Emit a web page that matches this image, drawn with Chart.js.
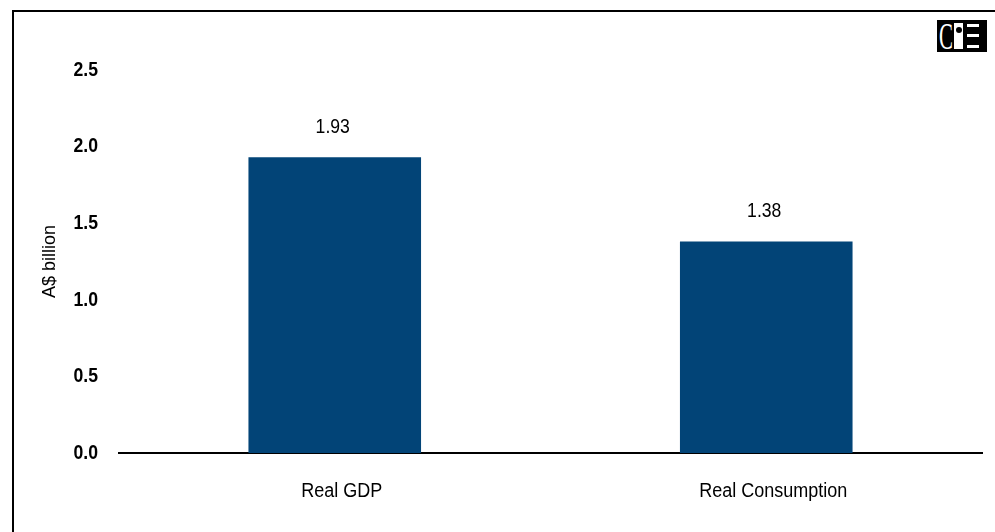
<!DOCTYPE html>
<html>
<head>
<meta charset="utf-8">
<script src="https://cdn.jsdelivr.net/npm/chart.js@4"></script>
<style>
  html, body { margin: 0; padding: 0; background: #fff; overflow: hidden; }
  #wrap { position: relative; width: 995px; height: 532px; }
  #frame {
    position: absolute; left: 12px; top: 10px; width: 1000px; height: 600px;
    border-left: 2px solid #000; border-top: 2px solid #000;
  }
  #logo {
    position: absolute; left: 937px; top: 20px; width: 50px; height: 32px;
    background: #000; color: #fff; font-family: "Liberation Serif", serif;
    box-sizing: border-box; overflow: hidden;
  }
  #logo .c {
    position: absolute; left: 2px; top: -2px; font-size: 38px; line-height: 36px;
    transform: scaleX(0.55); transform-origin: left center;
  }
  #logo .bar { position: absolute; left: 17px; top: 3px; width: 9px; height: 26px; background: #fff; }
  #logo .dot { position: absolute; left: 19px; top: 7px; width: 6px; height: 6px; border-radius: 3px; background: #000; }
  #logo .ln { position: absolute; left: 30px; width: 12px; height: 3px; background: #fff; }
  canvas { position: absolute; left: 0; top: 0; }
</style>
</head>
<body>
<div id="wrap">
  <div id="frame"></div>
  <div id="logo"><span class="c">C</span><span class="bar"></span><span class="dot"></span>
    <span class="ln" style="top:4px"></span><span class="ln" style="top:14px"></span><span class="ln" style="top:25px"></span>
  </div>
  <canvas id="barChart" width="995" height="532"></canvas>
</div>
<script>
const categories = ["Real GDP", "Real Consumption"];
const impactValues = [1.93, 1.38];
const yTicks = [0.0, 0.5, 1.0, 1.5, 2.0, 2.5];
const yTitle = "A$ billion";

const baseFont = "'Liberation Sans', Arial, sans-serif";

// narrow (condensed) text, like Arial Narrow in the original
function narrowText(ctx, text, x, y, size, weight, squeeze, align) {
  ctx.save();
  ctx.font = weight + " " + size + "px " + baseFont;
  ctx.fillStyle = "#000";
  ctx.textBaseline = "middle";
  ctx.textAlign = align;
  ctx.translate(x, y);
  ctx.scale(squeeze, 1);
  ctx.fillText(text, 0, 0);
  ctx.restore();
}

const textLayer = {
  id: "textLayer",
  afterDraw(chart) {
    const ctx = chart.ctx;
    const yScale = chart.scales.y;
    const xScale = chart.scales.x;
    const area = chart.chartArea;

    yTicks.forEach(v => {
      narrowText(ctx, v.toFixed(1), 98, yScale.getPixelForValue(v), 21, "bold", 0.84, "right");
    });

    categories.forEach((c, i) => {
      narrowText(ctx, c, xScale.getPixelForValue(i) + 7, 491, 20, "normal", 0.9, "center");
    });

    const meta = chart.getDatasetMeta(0);
    meta.data.forEach((bar, i) => {
      narrowText(ctx, impactValues[i].toFixed(2), bar.x - 2, bar.y - 30, 20, "normal", 0.88, "center");
    });

    ctx.save();
    ctx.translate(50, (area.top + area.bottom) / 2);
    ctx.rotate(-Math.PI / 2);
    narrowText(ctx, yTitle, 0, 0, 19, "normal", 0.95, "center");
    ctx.restore();
  }
};

const ctx = document.getElementById("barChart").getContext("2d");
new Chart(ctx, {
  type: "bar",
  data: {
    labels: categories,
    datasets: [{
      data: impactValues,
      backgroundColor: "#024477",
      barPercentage: 0.8,
      categoryPercentage: 0.5
    }]
  },
  options: {
    responsive: false,
    animation: false,
    layout: { padding: { left: 0, right: 13, top: 70, bottom: 0 } },
    plugins: { legend: { display: false }, tooltip: { enabled: false } },
    scales: {
      x: {
        grid: { display: false, drawTicks: false },
        border: { display: true, color: "#000", width: 2 },
        ticks: { display: false },
        afterFit(scale) { scale.height = 79; }
      },
      y: {
        min: 0,
        max: 2.5,
        afterBuildTicks(scale) { scale.ticks = yTicks.map(v => ({ value: v })); },
        grid: { display: false, drawTicks: false },
        border: { display: false },
        ticks: { display: false },
        afterFit(scale) { scale.width = 119; }
      }
    }
  },
  plugins: [textLayer]
});
</script>
</body>
</html>
